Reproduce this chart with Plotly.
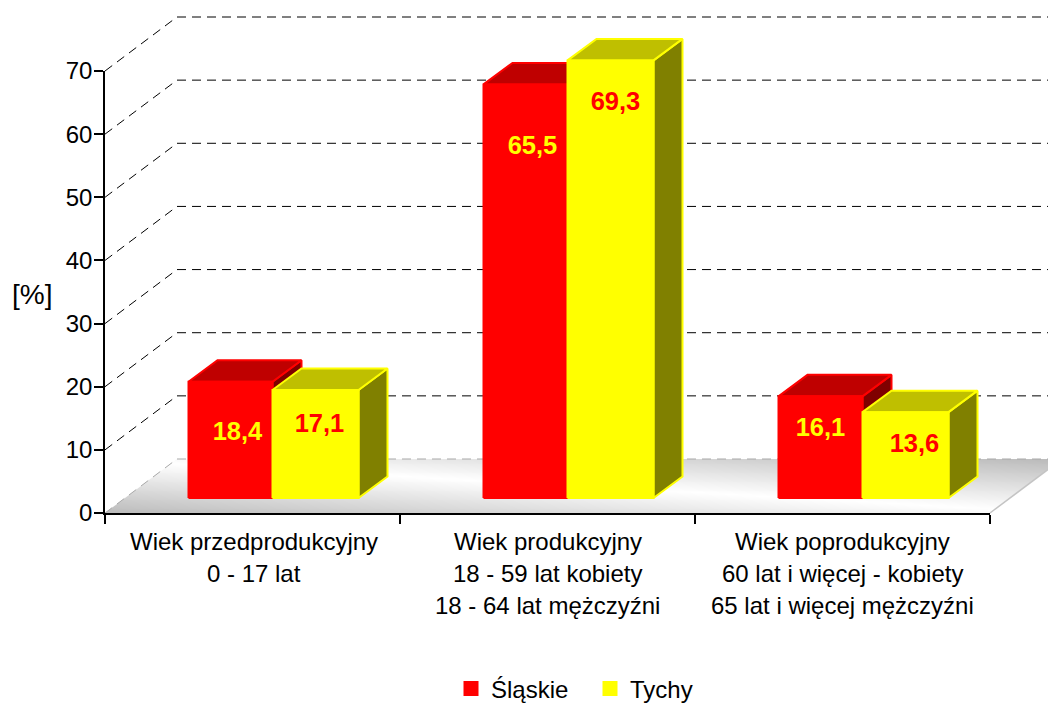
import numpy as np
import plotly.graph_objects as go

# ---- data ----
categories = [
    "Wiek przedprodukcyjny\n0 - 17 lat",
    "Wiek produkcyjny\n18 - 59 lat kobiety\n18 - 64 lat mężczyźni",
    "Wiek poprodukcyjny\n60 lat i więcej - kobiety\n65 lat i więcej mężczyźni",
]
slaskie = [18.4, 65.5, 16.1]
tychy = [17.1, 69.3, 13.6]
slaskie_labels = ["18,4", "65,5", "16,1"]
tychy_labels = ["17,1", "69,3", "13,6"]
y_ticks = [0, 10, 20, 30, 40, 50, 60, 70]

# hand-placed data label heights (value units, as in the source chart)
slaskie_label_y = [12.6, 57.8, 13.2]
tychy_label_y = [13.9, 64.9, 10.6]
slaskie_label_dx = [7, 7, 0]
tychy_label_dx = [4, 5, 9]

# ---- geometry (page pixels -> axis units) ----
W, H = 1048, 704
X0, X3 = 105, 990          # category axis ends
Y0, Y70 = 513, 71          # value axis ends
UX = (X3 - X0) / 3
UY = (Y0 - Y70) / 70
WALL_DX, WALL_DY = 72 / UX, 54 / UY
BAR_DX, BAR_DY = 29 / UX, 21.5 / UY
BAR_SHIFT_X, BAR_BASE = 20 / UX, 15 / UY
RED_W, YEL_W = 84 / UX, 86 / UX

FONT = "Liberation Sans, Arial, sans-serif"
TICK_SIZE = 24


def vy(px):
    return (Y0 - px) / UY


fig = go.Figure()

# floor gradient (white ridge running across the floor diagonally)
fx = np.linspace(0, 3 + WALL_DX, 81)
fy = np.linspace(0, WALL_DY, 31)
u, v = np.meshgrid(np.linspace(0, 1, 80), np.linspace(1, 0, 30))
fig.add_trace(go.Heatmap(x=fx, y=fy, z=np.abs(v - u), zmin=0, zmax=1, zsmooth="best",
                         colorscale=[[0, "#ffffff"], [1, "#bcbcbc"]], showscale=False,
                         hoverinfo="skip"))


def poly(xs, ys, fill, line, width=2):
    fig.add_trace(go.Scatter(x=xs, y=ys, mode="lines", fill="toself", fillcolor=fill,
                             line=dict(color=line, width=width), showlegend=False,
                             hoverinfo="skip"))


# white corners outside the floor parallelogram
poly([0, WALL_DX, 0, 0], [0, WALL_DY, WALL_DY, 0], "#ffffff", "rgba(0,0,0,0)", 0)
poly([3, 3 + WALL_DX, 3 + WALL_DX, 3], [0, WALL_DY, 0, 0], "#ffffff", "rgba(0,0,0,0)", 0)
fig.add_trace(go.Scatter(x=[3, 3 + WALL_DX], y=[0, WALL_DY], mode="lines",
                         line=dict(color="#c4c4c4", width=1.5), showlegend=False, hoverinfo="skip"))

# gridlines: diagonal on the side wall + horizontal on the back wall
for t in y_ticks:
    col = "#a8a8a8" if t == 0 else "#000000"
    fig.add_trace(go.Scatter(x=[0, WALL_DX, 3 + WALL_DX], y=[t, t + WALL_DY, t + WALL_DY],
                             mode="lines", line=dict(color=col, width=1, dash="9px,6px"),
                             showlegend=False, hoverinfo="skip"))


def bar3d(left, right, value, front, top, side, edge):
    base = BAR_BASE
    h = base + value
    poly([right, right + BAR_DX, right + BAR_DX, right, right],
         [base, base + BAR_DY, h + BAR_DY, h, base], side, edge)
    poly([left, left + BAR_DX, right + BAR_DX, right, left],
         [h, h + BAR_DY, h + BAR_DY, h, h], top, edge)
    poly([left, right, right, left, left], [base, base, h, h, base], front, edge)


for i in range(3):
    c = i + 0.5 + BAR_SHIFT_X
    bar3d(c - RED_W, c, slaskie[i], "#ff0000", "#bf0000", "#7f0000", "#ff0000")
    bar3d(c, c + YEL_W, tychy[i], "#ffff00", "#bfbf00", "#808000", "#ffff00")

# data labels
lab = dict(mode="text", showlegend=False, hoverinfo="skip", cliponaxis=False)
fig.add_trace(go.Scatter(
    x=[i + 0.5 + BAR_SHIFT_X - RED_W / 2 + slaskie_label_dx[i] / UX for i in range(3)],
    y=slaskie_label_y, text=slaskie_labels,
    textfont=dict(family=FONT, size=25.5, color="#ffff00", weight="bold"), **lab))
fig.add_trace(go.Scatter(
    x=[i + 0.5 + BAR_SHIFT_X + YEL_W / 2 + tychy_label_dx[i] / UX for i in range(3)],
    y=tychy_label_y, text=tychy_labels,
    textfont=dict(family=FONT, size=25.5, color="#ff0000", weight="bold"), **lab))

# legend entries
for name, col in (("Śląskie", "#ff0000"), ("Tychy", "#ffff00")):
    fig.add_trace(go.Scatter(x=[None], y=[None], mode="markers", name=name,
                             marker=dict(symbol="square", size=15, color=col, line=dict(width=0))))

# visible axes carrying the real scales
fig.add_trace(go.Scatter(x=[0, 3], y=[0, 70], xaxis="x2", yaxis="y2", mode="markers",
                         marker=dict(opacity=0), showlegend=False, hoverinfo="skip"))

annotations = []
for i, cat in enumerate(categories):
    for j, line in enumerate(cat.split("\n")):
        annotations.append(dict(x=i + 0.5 + 1 / UX * (i == 0), y=vy(541 + 32 * j), xref="x", yref="y",
                                text=line, showarrow=False, xanchor="center", yanchor="middle",
                                font=dict(family=FONT, size=24, color="#000000")))
annotations.append(dict(x=(32 - X0) / UX, y=vy(294), xref="x", yref="y", text="[%]",
                        showarrow=False, xanchor="center", yanchor="middle",
                        font=dict(family=FONT, size=28, color="#000000")))

fig.update_layout(
    width=W, height=H, margin=dict(l=0, r=0, t=0, b=0, autoexpand=False), autosize=False,
    paper_bgcolor="#ffffff", plot_bgcolor="rgba(0,0,0,0)",
    font=dict(family=FONT, color="#000000"),
    xaxis=dict(domain=[0, 1], range=[-X0 / UX, (W - X0) / UX], visible=False, fixedrange=True),
    yaxis=dict(domain=[0, 1], range=[(Y0 - H) / UY, Y0 / UY], visible=False, fixedrange=True),
    xaxis2=dict(domain=[X0 / W, X3 / W], range=[0, 3], anchor="y2",
                showgrid=False, zeroline=False, showline=True, linecolor="#000000", linewidth=1.5,
                tickvals=[0, 1, 2, 3], ticktext=["", "", "", ""], ticks="outside", ticklen=9,
                tickcolor="#000000", tickwidth=1.5, fixedrange=True),
    yaxis2=dict(domain=[(H - Y0) / H, (H - Y70) / H], range=[0, 70], anchor="x2",
                showgrid=False, zeroline=False, showline=True, linecolor="#000000", linewidth=1.5,
                tickvals=y_ticks, ticks="outside", ticklen=9, tickcolor="#000000", tickwidth=1.5,
                ticklabelstandoff=-3,
                tickfont=dict(family=FONT, size=TICK_SIZE, color="#000000"), fixedrange=True),
    annotations=annotations,
    legend=dict(orientation="h", x=451 / W, y=(H - 689) / H, xanchor="left", yanchor="middle",
                font=dict(family=FONT, size=24, color="#000000"), bgcolor="rgba(0,0,0,0)",
                entrywidth=94, entrywidthmode="pixels",
                itemclick=False, itemdoubleclick=False),
    showlegend=True,
)

fig.write_html("out.html", config={"displayModeBar": False},
               post_script="document.body.style.margin='0';")
